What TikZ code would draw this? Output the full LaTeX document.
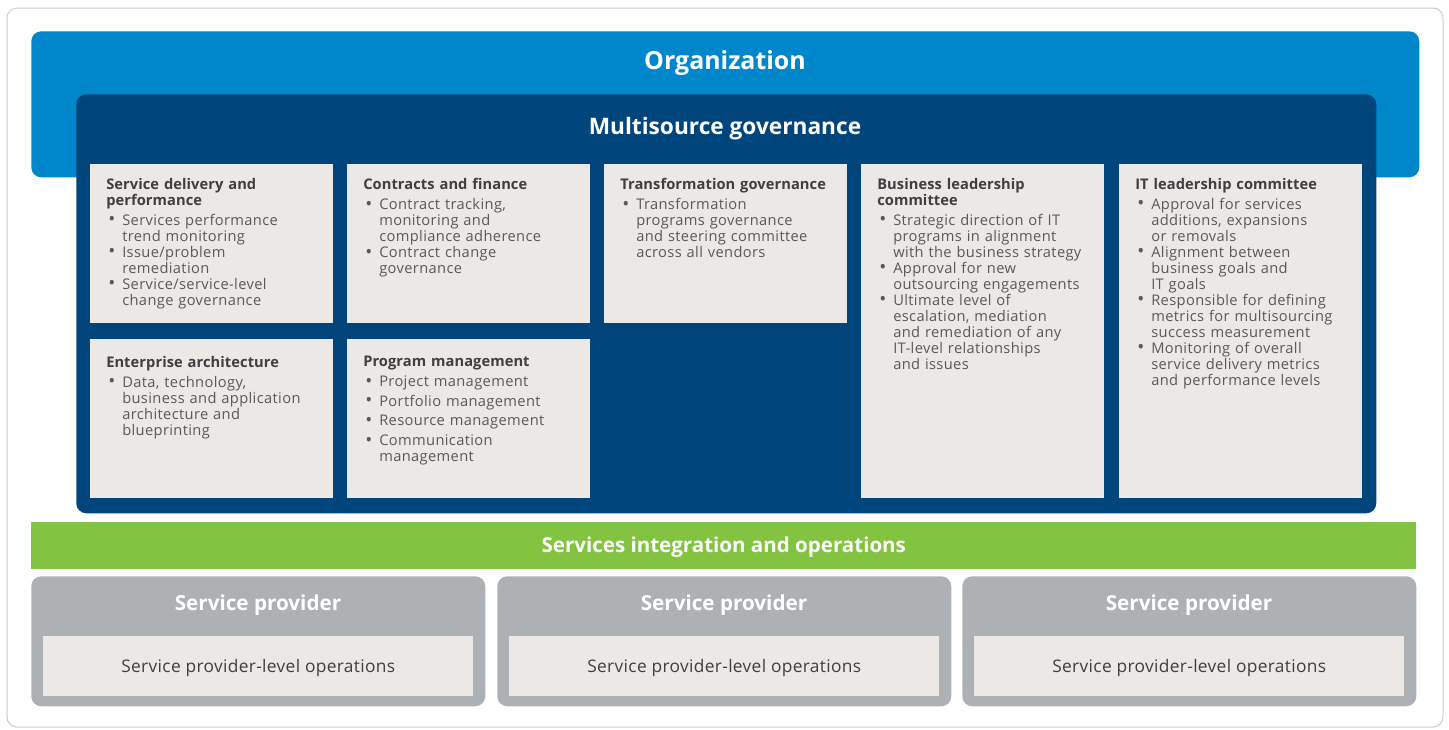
\documentclass[tikz,border=0pt]{standalone}
\usepackage{fontspec}
\setmainfont{Open Sans}
\usetikzlibrary{positioning}

\definecolor{orgblue}{HTML}{0087CB}
\definecolor{govnavy}{HTML}{00457C}
\definecolor{opsgreen}{HTML}{82C341}
\definecolor{provgray}{HTML}{ADB1B4}
\definecolor{cardfill}{HTML}{EBE8E5}
\definecolor{cardink}{HTML}{58595C}
\definecolor{headink}{HTML}{3E3F42}
\definecolor{framegray}{HTML}{C9CBCD}

% card contents: a bold heading, then bullet points with hanging lines
\newcommand{\cardhead}[1]{\noindent{\bfseries\color{headink}\addfontfeature{LetterSpace=0.5}#1}\par\vspace{3pt}}
\newcommand{\cardpt}[1]{\par\hangindent=12pt\hangafter=1\noindent
  \makebox[12pt][l]{\hspace{1.5pt}\raisebox{-0.4pt}{\fontsize{14}{12}\selectfont\textbullet}}#1\par}

\tikzset{
  band/.style={anchor=north west, inner sep=0pt, rounded corners=7.5pt},
  card/.style={anchor=north west, inner sep=0pt, fill=cardfill,
    minimum width=182.25pt, minimum height=119.25pt},
  tallcard/.style={card, minimum height=250.5pt},
  cardtxt/.style={anchor=north west, inner sep=0pt, text width=172pt, text=cardink,
    font=\fontsize{11}{12}\selectfont\addfontfeature{LetterSpace=2.5}},
  bigtitle/.style={text=white, font=\bfseries\fontsize{18.7}{20}\selectfont},
}

\begin{document}
\begin{tikzpicture}[x=0.75pt, y=-0.75pt]
    \useasboundingbox (0,0) rectangle (1449,729);

    % light outer frame
    \draw[framegray, line width=0.75pt, rounded corners=7.5pt] (7,8) rectangle (1443,727);

    % organization and governance layers
    \node[band, fill=orgblue, minimum width=1041pt, minimum height=109.5pt] (org) at (31,31) {};
    \node[bigtitle] (orgtitle) at (725,63.5) {Organization};
    \node[band, fill=govnavy, minimum width=975pt, minimum height=314.25pt] (gov) at (76,94) {};
    \node[bigtitle, font=\bfseries\fontsize{17}{18}\selectfont] (govtitle) at (725,128.5) {Multisource governance};

    % governance cards, first row
    \node[card] (sdp) at (90,164) {};
    \node[card] (cfin) at (347,164) {};
    \node[card] (tgov) at (604,164) {};
    \node[tallcard] (blc) at (861,164) {};
    \node[tallcard] (itlc) at (1119,164) {};
    % second row
    \node[card] (earch) at (90,339) {};
    \node[card] (pmgmt) at (347,339) {};

    \node[cardtxt] (sdptxt) at ([xshift=12pt, yshift=-10.5pt]sdp.north west) {%
        \cardhead{Service delivery and\newline performance}
        \cardpt{Services performance\newline trend monitoring}
        \cardpt{Issue/problem\newline remediation}
        \cardpt{Service/service-level\newline change governance}};
    \node[cardtxt] (cfintxt) at ([xshift=12pt, yshift=-10.5pt]cfin.north west) {%
        \cardhead{Contracts and finance}
        \cardpt{Contract tracking,\newline monitoring and\newline compliance adherence}
        \cardpt{Contract change\newline governance}};
    \node[cardtxt] (tgovtxt) at ([xshift=12pt, yshift=-10.5pt]tgov.north west) {%
        \cardhead{Transformation governance}
        \cardpt{Transformation\newline programs governance\newline and steering committee\newline across all vendors}};
    \node[cardtxt] (blctxt) at ([xshift=12pt, yshift=-10.5pt]blc.north west) {%
        \cardhead{Business leadership\newline committee}
        \cardpt{Strategic direction of IT\newline programs in alignment\newline with the business strategy}
        \cardpt{Approval for new\newline outsourcing engagements}
        \cardpt{Ultimate level of\newline escalation, mediation\newline and remediation of any\newline IT-level relationships\newline and issues}};
    \node[cardtxt] (itlctxt) at ([xshift=12pt, yshift=-10.5pt]itlc.north west) {%
        \cardhead{IT leadership committee}
        \cardpt{Approval for services\newline additions, expansions\newline or removals}
        \cardpt{Alignment between\newline business goals and\newline IT goals}
        \cardpt{Responsible for defining\newline metrics for multisourcing\newline success measurement}
        \cardpt{Monitoring of overall\newline service delivery metrics\newline and performance levels}};
    \node[cardtxt] (earchtxt) at ([xshift=12pt, yshift=-12.75pt]earch.north west) {%
        \cardhead{Enterprise architecture}
        \cardpt{Data, technology,\newline business and application\newline architecture and\newline blueprinting}};
    \node[cardtxt] (pmgmttxt) at ([xshift=12pt, yshift=-12.75pt]pmgmt.north west) {%
        \cardhead{Program management}
        \cardpt{Project management}\vspace{2.7pt}
        \cardpt{Portfolio management}\vspace{2.7pt}
        \cardpt{Resource management}\vspace{2.7pt}
        \cardpt{Communication\newline management}};

    % integration layer
    \node[band, rounded corners=0pt, fill=opsgreen, minimum width=1038.75pt, minimum height=35.25pt,
        text=white, text depth=2pt, font=\bfseries\fontsize{15.4}{17}\selectfont] (sio) at (31,522) {Services integration and operations};

    % service providers
    \foreach \sx [count=\i, evaluate=\sx as \cx using \sx+227] in {31,497,962} {
        \node[band, fill=provgray, minimum width=340.5pt, minimum height=97.5pt] (prov\i) at (\sx,576) {};
        \node[text=white, font=\bfseries\fontsize{15.5}{17}\selectfont] (provtitle\i) at (\cx,605) {Service provider};
        \node[anchor=north west, inner sep=0pt, fill=cardfill, minimum width=322.5pt, minimum height=45pt,
            text=headink, text depth=0pt, font=\fontsize{13}{14}\selectfont\addfontfeature{LetterSpace=2}]
            (ops\i) at (\sx+12,636) {Service provider-level operations};
    }
\end{tikzpicture}
\end{document}
